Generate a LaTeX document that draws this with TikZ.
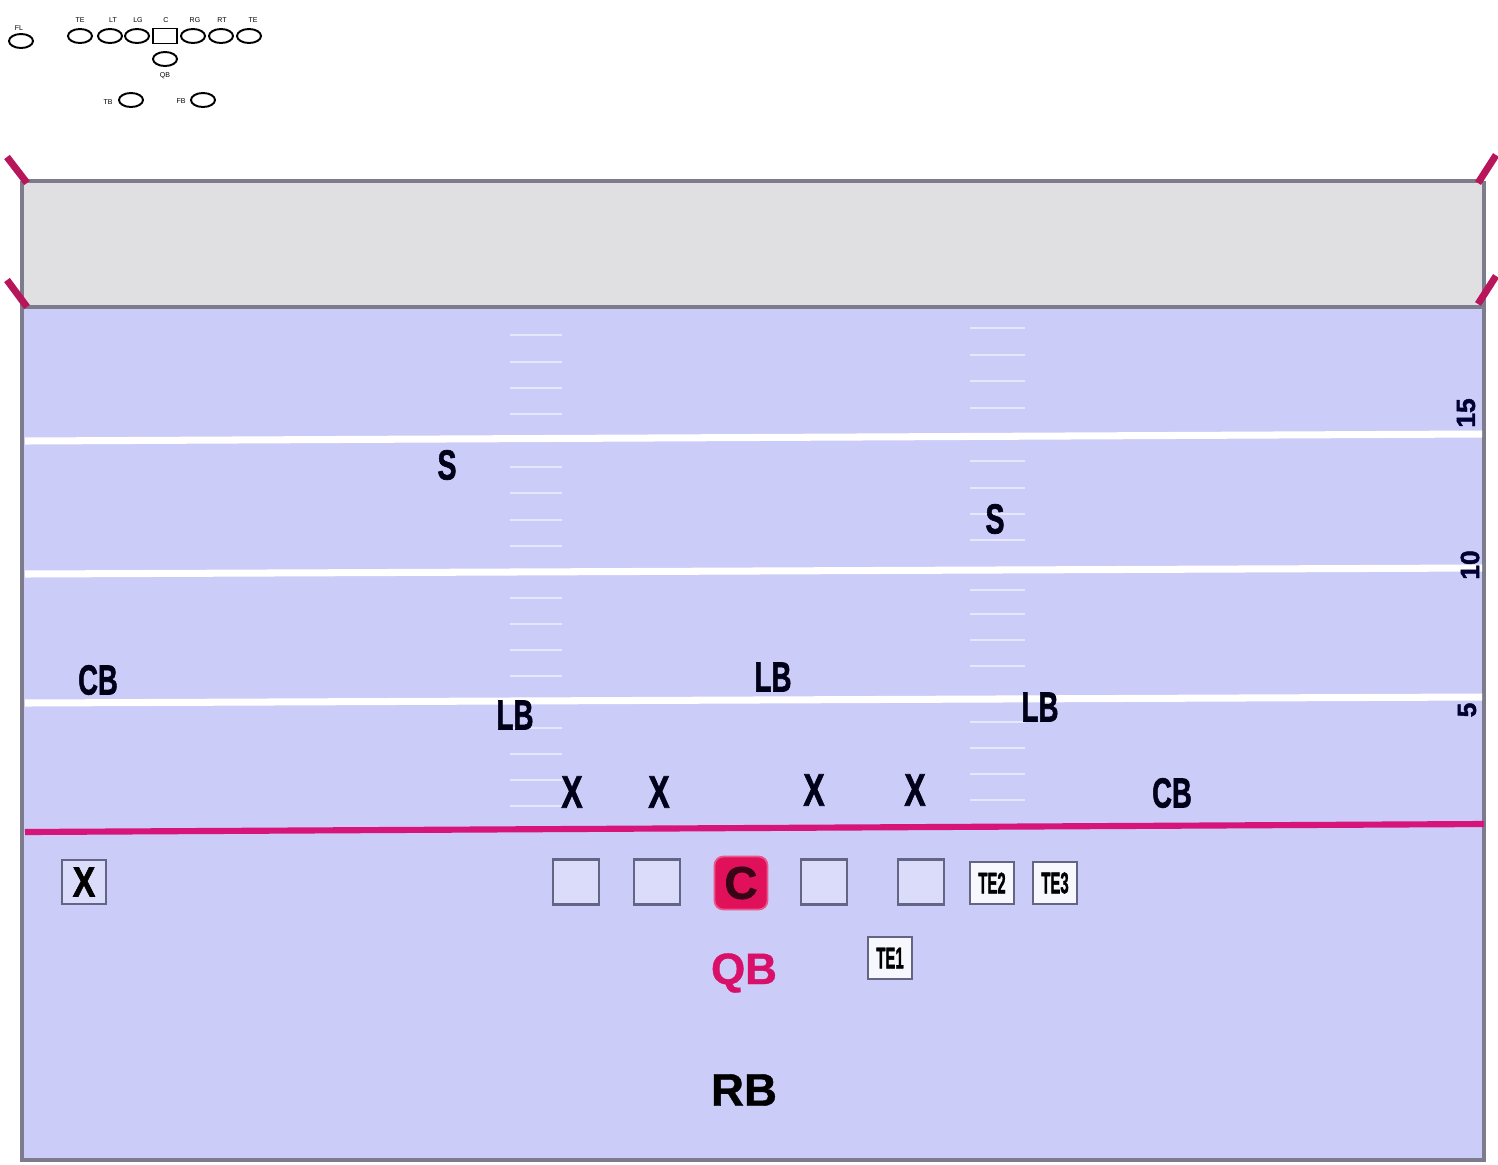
\documentclass[tikz,border=0pt]{standalone}
\usepackage{fontspec}
\setmainfont{Liberation Sans}
\newfontfamily\heavy{Liberation Sans}[BoldFeatures={FakeBold=1.6}]
\newfontfamily\semiheavy{Liberation Sans}[BoldFeatures={FakeBold=0.8}]
\usetikzlibrary{shapes.geometric}
\definecolor{field}{HTML}{CCCCF8}
\definecolor{ezone}{HTML}{E0E0E2}
\definecolor{bord}{HTML}{7C7C8C}
\definecolor{post}{HTML}{B8165A}
\definecolor{los}{HTML}{D6147A}
\definecolor{hash}{HTML}{E6E6FC}
\definecolor{boxln}{HTML}{646484}
\definecolor{crim}{HTML}{E0105A}
\definecolor{qbcol}{HTML}{D8106A}
\newcommand\cond[2][0.68]{\scalebox{#1}[1]{#2}}
\tikzset{
  mini/.style={ellipse, draw=black, line width=1.1pt, minimum width=0.48cm, minimum height=0.28cm, inner sep=0pt},
  minisq/.style={rectangle, draw=black, line width=1.1pt, minimum width=0.48cm, minimum height=0.30cm, inner sep=0pt},
  minilab/.style={font=\fontsize{4}{4}\selectfont, inner sep=0pt},
  player/.style={font=\heavy\bfseries\fontsize{24}{24}\selectfont, text=black!90!blue, inner sep=0pt},
  olbox/.style={rectangle, draw=boxln, fill=field!70!white, line width=1.5pt, minimum width=0.92cm, minimum height=0.9cm, inner sep=0pt},
  tebox/.style={rectangle, draw=boxln, fill=white!85!field, line width=1.4pt, minimum width=0.88cm, minimum height=0.84cm, inner sep=0pt, font=\heavy\bfseries\fontsize{17}{17}\selectfont},
  yardline/.style={white, line width=4pt},
  hashmark/.style={hash, line width=1.6pt},
  postline/.style={post, line width=4pt},
  ynum/.style={font=\heavy\bfseries\fontsize{15}{15}\selectfont, text=black!80!blue, rotate=90, inner sep=0pt},
}
\begin{document}
\begin{tikzpicture}[x=0.02cm, y=-0.02cm]
\useasboundingbox (0,0) rectangle (1498,1164);
\fill[white] (0,0) rectangle (1498,1164);

% mini formation
\node[mini] (fl) at (21,41) {};
\node[mini] (te1m) at (80,36) {};
\node[mini] (ltm) at (110,36) {};
\node[mini] (lgm) at (137,36) {};
\node[minisq] (cm) at (165,36) {};
\node[mini] (rgm) at (193,36) {};
\node[mini] (rtm) at (221,36) {};
\node[mini] (te2m) at (249,36) {};
\node[mini] (qbm) at (165,59) {};
\node[mini] (tbm) at (131,100) {};
\node[mini] (fbm) at (203,100) {};
\node[minilab] (lfl) at (19,28) {FL};
\node[minilab] (lte1) at (80,20) {TE};
\node[minilab] (llt) at (113,20) {LT};
\node[minilab] (llg) at (138,20) {LG};
\node[minilab] (lc) at (166,20) {C};
\node[minilab] (lrg) at (195,20) {RG};
\node[minilab] (lrt) at (222,20) {RT};
\node[minilab] (lte2) at (253,20) {TE};
\node[minilab] (lqb) at (165,76) {QB};
\node[minilab] (ltb) at (108,102) {TB};
\node[minilab] (lfb) at (181,101) {FB};

% end zone and field
\fill[ezone] (22,181) rectangle (1484,307);
\fill[field] (22,307) rectangle (1484,1160);
\draw[bord, line width=2.3pt] (22,181) -- (1484,181);
\draw[bord, line width=2.3pt] (22,307) -- (1484,307);
\draw[bord, line width=2.3pt] (22,181) -- (22,1162);
\draw[bord, line width=2.3pt] (1484,181) -- (1484,1162);
\draw[bord, line width=2.3pt] (22,1160) -- (1484,1160);

% goal posts
\draw[postline] (7,157) -- (27,183);
\draw[postline] (7,280) -- (27,307);
\draw[postline] (1496,155) -- (1478,183);
\draw[postline] (1496,276) -- (1478,304);

% yard lines
\draw[yardline] (25,441) -- (1482,434);
\draw[yardline] (25,574) -- (1482,568);
\draw[yardline] (25,703) -- (1482,697);

% hash marks
\foreach \y in {335,362,388,414,467,493,520,546,598,624,650,676,728,754,780,806}
  \draw[hashmark] (510,\y) -- (562,\y);
\foreach \y in {328,355,381,408,461,488,514,540,590,614,640,666,722,748,774,800}
  \draw[hashmark] (970,\y) -- (1025,\y);

% yard numbers
\node[ynum] (n15) at (1466,413) {15};
\node[ynum] (n10) at (1470,565) {10};
\node[ynum] (n5) at (1467,710) {5};

% line of scrimmage
\draw[los, line width=3.5pt] (25,832) -- (1484,824);

% defense
\node[player] (s1) at (447,465) {\cond{S}};
\node[player] (s2) at (995,519) {\cond{S}};
\node[player] (cb1) at (98,680) {\cond[0.65]{CB}};
\node[player] (cb2) at (1172,793) {\cond[0.65]{CB}};
\node[player] (lb1) at (515,715) {\cond[0.66]{LB}};
\node[player] (lb2) at (773,677) {\cond[0.66]{LB}};
\node[player] (lb3) at (1040,707) {\cond[0.66]{LB}};
\node[player, font=\heavy\bfseries\fontsize{26}{26}\selectfont] (x1) at (572,792) {\cond[0.7]{X}};
\node[player, font=\heavy\bfseries\fontsize{26}{26}\selectfont] (x2) at (659,792) {\cond[0.7]{X}};
\node[player, font=\heavy\bfseries\fontsize{26}{26}\selectfont] (x3) at (814,790) {\cond[0.7]{X}};
\node[player, font=\heavy\bfseries\fontsize{26}{26}\selectfont] (x4) at (915,790) {\cond[0.7]{X}};

% offense
\node[olbox, font=\heavy\bfseries\fontsize{24}{24}\selectfont, text=black, minimum width=0.88cm, minimum height=0.88cm] (wr) at (84,882) {\cond[0.8]{X}};
\node[olbox] (lt) at (576,882) {};
\node[olbox] (lg) at (657,882) {};
\node[rectangle, rounded corners=5pt, fill=crim, draw=crim!70!white, line width=1pt, minimum width=1.06cm, minimum height=1.06cm, inner sep=0pt, font=\heavy\bfseries\fontsize{26}{26}\selectfont, text=black!75!crim] (c) at (741,883) {C};
\node[olbox] (rg) at (824,882) {};
\node[olbox] (rt) at (921,882) {};
\node[tebox] (te2) at (992,883) {\cond[0.5]{TE2}};
\node[tebox] (te3) at (1055,883) {\cond[0.5]{TE3}};
\node[tebox] (te1) at (890,958) {\cond[0.5]{TE1}};
\node[font=\semiheavy\bfseries\fontsize{25}{25}\selectfont, text=qbcol, inner sep=0pt] (qb) at (744,973) {QB};
\node[font=\semiheavy\bfseries\fontsize{26}{26}\selectfont, text=black, inner sep=0pt] (rb) at (744,1090) {RB};
\end{tikzpicture}
\end{document}
